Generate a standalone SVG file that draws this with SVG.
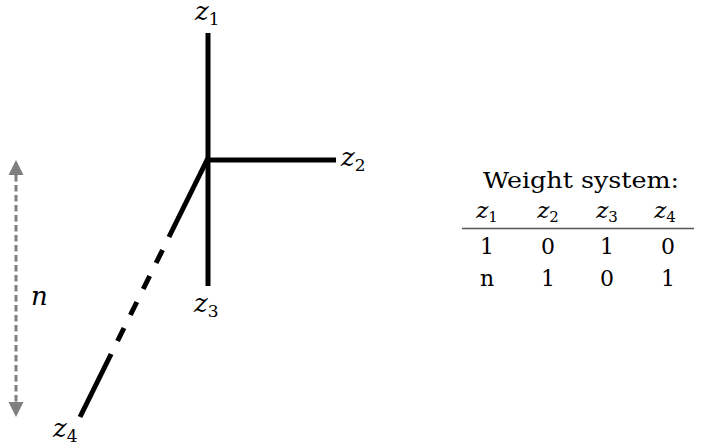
<svg xmlns="http://www.w3.org/2000/svg" width="710" height="448" viewBox="0 0 710 448">
<style>
text{font-family:"DejaVu Serif",serif;fill:#000}
.lbl{font-style:italic;font-size:26px}
.sub{font-style:normal;font-size:17px}
.tx{font-size:22px}
.tz{font-style:italic;font-size:23px}
.tsub{font-style:normal;font-size:15px}
.edge{stroke:#000;stroke-width:5;fill:none;stroke-linecap:butt}
</style>
<rect width="710" height="448" fill="#fff"/>
<g id="connectors">
<line class="edge" x1="208" y1="33" x2="208" y2="286"/>
<line class="edge" x1="206" y1="160" x2="336" y2="160"/>
<line class="edge" x1="208" y1="158" x2="168.95" y2="237"/>
<line class="edge" x1="162.52" y1="250" x2="117.55" y2="341" stroke-dasharray="14.5 14.5"/>
<line class="edge" x1="111.13" y1="354" x2="80" y2="417"/>
</g>
<g id="n-arrow">
<line x1="16" y1="175" x2="16" y2="403" stroke="#7f7f7f" stroke-width="3" stroke-dasharray="6.5 3.5"/>
<polygon points="16,160 8.5,175 23.5,175" fill="#7f7f7f"/>
<polygon points="16,417 8.5,402 23.5,402" fill="#7f7f7f"/>
<text class="lbl" x="31" y="305">n</text>
</g>
<g id="z1"><text class="lbl" x="195" y="20">z<tspan class="sub" dy="5">1</tspan></text></g>
<g id="z2"><text class="lbl" x="341" y="166">z<tspan class="sub" dy="5">2</tspan></text></g>
<g id="z3"><text class="lbl" x="194" y="312">z<tspan class="sub" dy="5">3</tspan></text></g>
<g id="z4"><text class="lbl" x="53" y="437">z<tspan class="sub" dy="5">4</tspan></text></g>
<g id="weight-table">
<text class="tx" x="581" y="188" text-anchor="middle" font-size="24" textLength="196" lengthAdjust="spacingAndGlyphs">Weight system:</text>
<text class="tz" x="487" y="218" text-anchor="middle">z<tspan class="tsub" dy="4">1</tspan></text>
<text class="tz" x="548" y="218" text-anchor="middle">z<tspan class="tsub" dy="4">2</tspan></text>
<text class="tz" x="607" y="218" text-anchor="middle">z<tspan class="tsub" dy="4">3</tspan></text>
<text class="tz" x="665" y="218" text-anchor="middle">z<tspan class="tsub" dy="4">4</tspan></text>
<line x1="462" y1="228.5" x2="694" y2="228.5" stroke="#555" stroke-width="1.5"/>
<text class="tx" x="487" y="254" text-anchor="middle">1</text>
<text class="tx" x="548" y="254" text-anchor="middle">0</text>
<text class="tx" x="607" y="254" text-anchor="middle">1</text>
<text class="tx" x="668" y="254" text-anchor="middle">0</text>
<text class="tx" x="487" y="286" text-anchor="middle">n</text>
<text class="tx" x="548" y="286" text-anchor="middle">1</text>
<text class="tx" x="607" y="286" text-anchor="middle">0</text>
<text class="tx" x="668" y="286" text-anchor="middle">1</text>
</g>
</svg>
